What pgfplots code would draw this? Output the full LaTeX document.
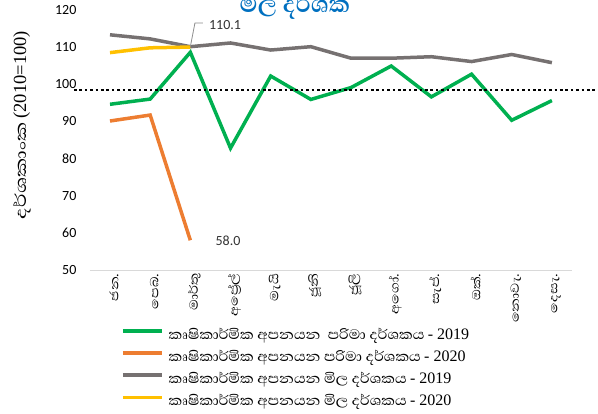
\documentclass[border=0pt]{standalone}
\usepackage{pgfplots}
\pgfplotsset{compat=1.18}
\usepackage{graphicx}
\usepackage{fontspec}
\setmainfont{Carlito}
\newfontfamily\sifont[Script=Sinhala]{Abhaya Libre}
\newfontfamily\tnr{Liberation Serif}
\newcommand{\sw}[1]{\scalebox{1.2}[1]{#1}}
\newcommand{\lw}[1]{\scalebox{1.1}[1]{#1}}
\definecolor{cgreen}{HTML}{00B050}
\definecolor{corange}{HTML}{ED7D31}
\definecolor{cgray}{HTML}{767171}
\definecolor{cyellow}{HTML}{FFC000}
\definecolor{cblue}{HTML}{0070C0}
\begin{document}
\begin{tikzpicture}
\begin{axis}[
    at={(89.9pt,143pt)}, anchor=south west,
    scale only axis,
    width=482.1pt, height=260.1pt,
    xmin=0.5, xmax=12.5,
    ymin=50, ymax=120,
    clip=false,
    axis x line*=bottom,
    axis y line*=left,
    x axis line style={draw=black!15, line width=1pt, -},
    y axis line style={draw=none},
    major tick length=0pt,
    ytick={50,60,...,120},
    xtick={1,...,12},
    xticklabels={\sw{ජන.}, \sw{පෙබ.}, \sw{මාර්තු}, \sw{අප්^^^^200dරේල්}, \sw{මැයි}, \sw{ජූනි}, \sw{ජූලි}, \sw{අගෝ.}, \sw{සැප්.}, \sw{ඔක්.}, \sw{නොවැ.}, \sw{දෙසැ.}},
    xticklabel style={rotate=90, anchor=east, yshift=-4pt, font=\sifont\fontsize{15}{15}\selectfont},
    yticklabel style={xshift=-10pt, font=\fontsize{14}{14}\selectfont},
    /pgf/number format/assume math mode=true,
    ylabel={\sifont\fontsize{20}{20}\selectfont \scalebox{1.35}[1]{දර්ශකාංක} {\tnr\fontsize{18.5}{18.5}\selectfont (2010=100)}},
    ylabel style={at={(axis description cs:-0.141,0.557)}, anchor=center},
    legend style={at={(axis description cs:0.0646,-0.219)}, anchor=north west,
        draw=none, fill=none, inner sep=0pt, row sep=5.9pt, column sep=5pt,
        nodes={inner sep=0pt, text height=12pt, text depth=4.3pt},
        font=\sifont\fontsize{17.5}{17.5}\selectfont},
    legend cell align=left,
    legend image code/.code={\draw[#1, line width=3.5pt] (0pt,4.5pt) -- (39pt,4.5pt);},
]
\addplot[cgreen, line width=3.5pt] coordinates {
    (1,94.6) (2,96.0) (3,108.6) (4,82.8) (5,102.2) (6,95.9)
    (7,99.1) (8,104.9) (9,96.6) (10,102.7) (11,90.3) (12,95.6)};
\addlegendentry{\lw{කෘෂිකාර්මික අපනයන \ පරිමා දර්ශකය} {\tnr\fontsize{16}{16}\selectfont - 2019}}
\addplot[corange, line width=3.5pt] coordinates {(1,90.1) (2,91.7) (3,58.0)};
\addlegendentry{\lw{කෘෂිකාර්මික අපනයන පරිමා දර්ශකය} {\tnr\fontsize{16}{16}\selectfont - 2020}}
\addplot[cgray, line width=3.5pt] coordinates {
    (1,113.3) (2,112.2) (3,110.1) (4,111.1) (5,109.2) (6,110.1)
    (7,107.0) (8,107.0) (9,107.4) (10,106.1) (11,108.0) (12,105.8)};
\addlegendentry{\lw{කෘෂිකාර්මික අපනයන මිල දර්ශකය} {\tnr\fontsize{16}{16}\selectfont - 2019}}
\addplot[cyellow, line width=3.5pt] coordinates {(1,108.5) (2,109.8) (3,110.0)};
\addlegendentry{\lw{කෘෂිකාර්මික අපනයන මිල දර්ශකය} {\tnr\fontsize{16}{16}\selectfont - 2020}}
% 100 reference line
\addplot[black, line width=2.6pt, dash pattern=on 2.7pt off 2.7pt, forget plot]
    coordinates {(0.104,98.4) (13.15,98.4)};
% labels
\draw[black!45, line width=0.8pt] (axis cs:3,110.1) -- (axis cs:3.115,116.5) -- (axis cs:3.31,116.5);
\node[anchor=west, font=\fontsize{14}{14}\selectfont, text=black!80] at (axis cs:3.38,116.0) {110.1};
\node[anchor=west, font=\fontsize{14}{14}\selectfont, text=black!80] at (axis cs:3.54,57.8) {58.0};
\end{axis}
\node[anchor=base, font=\sifont\bfseries\fontsize{30}{30}\selectfont, text=cblue] at (295pt,400pt) {මිල දර්ශක};
\pgfresetboundingbox
\path[use as bounding box] (0,0) rectangle (598pt,413pt);
\end{tikzpicture}
\end{document}
